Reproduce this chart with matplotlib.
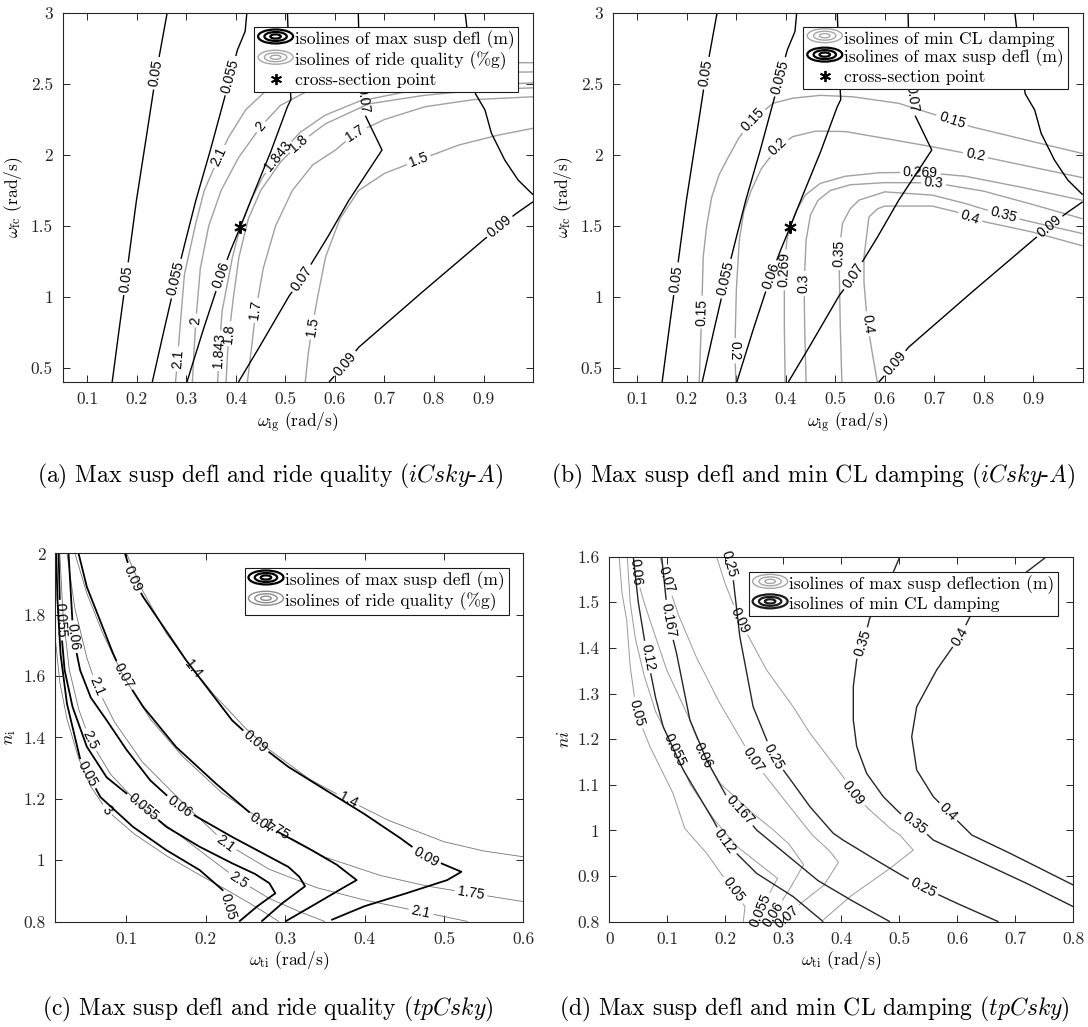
import matplotlib
matplotlib.use("Agg")
import matplotlib.pyplot as plt
from matplotlib.contour import ContourSet
from matplotlib.patches import Ellipse
from matplotlib.lines import Line2D
from matplotlib.ticker import FuncFormatter

plt.rcParams["font.family"] = "cmr10"
plt.rcParams["mathtext.fontset"] = "cm"
plt.rcParams["axes.formatter.use_mathtext"] = True

# ---------------- (a)/(b): iCsky-A design plane (w_ig, w_fc) ----------------
defl_ab_levels = [0.05, 0.055, 0.06, 0.07, 0.09]
defl_ab_lines = [
    [[(0.150, 0.40), (0.164, 0.77), (0.178, 1.13), (0.199, 1.68), (0.220, 2.15), (0.239, 2.58), (0.261, 3.0)]],
    [[(0.231, 0.40), (0.255, 0.77), (0.279, 1.13), (0.300, 1.42), (0.319, 1.68), (0.348, 2.03), (0.376, 2.39),
      (0.403, 2.74), (0.4185, 2.87), (0.422, 3.0)]],
    [[(0.301, 0.40), (0.335, 0.78), (0.370, 1.15), (0.3895, 1.33), (0.4085, 1.49), (0.433, 1.705), (0.470, 2.02),
      (0.504, 2.34), (0.511, 2.39), (0.508, 2.6), (0.504, 3.0)]],
    [[(0.405, 0.40), (0.447, 0.645), (0.508, 1.01), (0.534, 1.13), (0.585, 1.42), (0.628, 1.68), (0.695, 2.035),
      (0.661, 2.28), (0.655, 2.42), (0.650, 2.65), (0.647, 3.0)]],
    [[(0.588, 0.40), (0.621, 0.528), (0.648, 0.645), (0.775, 1.03), (0.903, 1.41), (0.933, 1.493), (0.965, 1.585),
      (1.0, 1.67)],
     [(0.863, 3.0), (0.868, 2.85), (0.876, 2.6), (0.884, 2.43), (0.903, 2.317), (0.916, 2.153), (0.943, 1.964),
      (0.970, 1.823), (1.0, 1.72)]],
]
defl_a_labels = [(0.2388, 2.576), (0.178, 1.128), (0.396, 2.552), (0.279, 1.129), (0.370, 1.152),
                 (0.534, 1.128), (0.650, 2.388), (0.621, 0.528), (0.933, 1.493)]
defl_b_labels = [(0.2396, 2.576), (0.179, 1.128), (0.387, 2.552), (0.280, 1.128), (0.367, 1.152),
                 (0.5346, 1.152), (0.649, 2.388), (0.622, 0.528), (0.934, 1.493)]

ride_a_levels = [1.5, 1.7, 1.8, 1.843, 2.0, 2.1]
ride_a_lines = [
    [[(0.54, 0.40), (0.546, 0.6), (0.554, 0.787), (0.565, 1.0), (0.581, 1.281), (0.61, 1.55), (0.648, 1.75),
      (0.70, 1.87), (0.769, 1.964), (0.85, 2.07), (0.93, 2.14), (1.0, 2.188)]],
    [[(0.423, 0.40), (0.43, 0.6), (0.44, 0.9), (0.455, 1.2), (0.48, 1.5), (0.514, 1.75), (0.555, 1.93),
      (0.601, 2.035), (0.641, 2.153), (0.70, 2.25), (0.782, 2.34), (0.88, 2.39), (1.0, 2.41)]],
    [[(0.380, 0.40), (0.383, 0.60), (0.386, 0.74), (0.395, 1.0), (0.406, 1.28), (0.425, 1.55), (0.45, 1.75),
      (0.49, 1.95), (0.527, 2.08), (0.581, 2.22), (0.668, 2.36), (0.78, 2.42), (0.9, 2.46), (1.0, 2.473)]],
    [[(0.363, 0.40), (0.366, 0.62), (0.372, 0.9), (0.393, 1.28), (0.4085, 1.49), (0.43, 1.68), (0.455, 1.85),
      (0.484, 1.99), (0.53, 2.16), (0.58, 2.28), (0.65, 2.38), (0.75, 2.45), (0.88, 2.49), (1.0, 2.508)]],
    [[(0.312, 0.40), (0.315, 0.60), (0.319, 0.83), (0.328, 1.2), (0.345, 1.5), (0.37, 1.75), (0.405, 1.98),
      (0.45, 2.2), (0.49, 2.35), (0.55, 2.46), (0.68, 2.55), (0.84, 2.58), (1.0, 2.585)]],
    [[(0.278, 0.40), (0.282, 0.56), (0.286, 0.74), (0.296, 1.16), (0.319, 1.52), (0.336, 1.75), (0.366, 1.99),
      (0.386, 2.13), (0.42, 2.32), (0.46, 2.45), (0.55, 2.57), (0.68, 2.63), (0.84, 2.65), (1.0, 2.65)]],
]
ride_a_labels = [(0.554, 0.787), (0.769, 1.964), (0.44, 0.905), (0.641, 2.153), (0.386, 0.74), (0.527, 2.08),
                 (0.366, 0.62), (0.484, 1.99), (0.319, 0.834), (0.45, 2.2), (0.282, 0.563), (0.366, 1.99)]

damp_b_levels = [0.15, 0.2, 0.269, 0.3, 0.35, 0.4]
damp_b_lines = [
    [[(0.225, 0.40), (0.228, 0.7), (0.23, 0.89), (0.233, 1.28), (0.24, 1.5), (0.25, 1.70), (0.265, 1.86),
      (0.28, 1.96), (0.305, 2.12), (0.333, 2.246), (0.374, 2.364), (0.414, 2.40), (0.47, 2.42), (0.535, 2.41),
      (0.628, 2.364), (0.736, 2.246), (0.776, 2.198), (0.83, 2.153), (0.91, 2.085), (1.0, 2.01)]],
    [[(0.299, 0.40), (0.297, 0.62), (0.30, 1.05), (0.306, 1.4), (0.315, 1.6), (0.33, 1.75), (0.35, 1.9),
      (0.384, 2.058), (0.414, 2.129), (0.46, 2.168), (0.52, 2.165), (0.595, 2.12), (0.696, 2.058),
      (0.783, 1.999), (0.863, 1.94), (1.0, 1.84)]],
    [[(0.3986, 0.40), (0.397, 0.8), (0.397, 1.19), (0.402, 1.40), (0.4085, 1.49), (0.42, 1.6), (0.44, 1.72),
      (0.47, 1.8), (0.52, 1.85), (0.59, 1.875), (0.675, 1.878), (0.763, 1.85), (0.88, 1.77), (1.0, 1.68)]],
    [[(0.441, 0.40), (0.438, 0.8), (0.437, 1.09), (0.441, 1.4), (0.45, 1.58), (0.465, 1.68), (0.49, 1.75),
      (0.53, 1.79), (0.6, 1.805), (0.699, 1.804), (0.8, 1.745), (0.9, 1.65), (1.0, 1.55)]],
    [[(0.5133, 0.40), (0.51, 0.8), (0.5075, 1.305), (0.5145, 1.517), (0.53, 1.62), (0.548, 1.682), (0.60, 1.74),
      (0.696, 1.717), (0.763, 1.658), (0.84, 1.576), (0.897, 1.528), (1.0, 1.446)]],
    [[(0.585, 0.40), (0.575, 0.6), (0.565, 0.81), (0.558, 1.1), (0.558, 1.281), (0.568, 1.563), (0.585, 1.62),
      (0.6, 1.64), (0.696, 1.64), (0.743, 1.6), (0.773, 1.563), (0.803, 1.528), (0.897, 1.458), (1.0, 1.36)]],
]
damp_b_labels = [(0.2296, 0.893), (0.333, 2.246), (0.736, 2.246), (0.297, 0.62), (0.384, 2.058),
                 (0.783, 1.999), (0.397, 1.19), (0.672, 1.878), (0.437, 1.093), (0.699, 1.804),
                 (0.5075, 1.305), (0.84, 1.576), (0.565, 0.81), (0.773, 1.563)]

cross_point = (0.4085, 1.49)

# ---------------- (c): tpCsky plane (w_ti, n_i) ----------------
defl_c_levels = [0.05, 0.055, 0.06, 0.07, 0.09]
defl_c_lines = [
    [[(0.0115, 2.0), (0.013, 1.85), (0.017, 1.67), (0.025, 1.51), (0.042, 1.326), (0.067, 1.206),
      (0.108, 1.109), (0.15, 1.033), (0.192, 0.968), (0.221, 0.903), (0.228, 0.85), (0.233, 0.80)]],
    [[(0.0145, 2.0), (0.0166, 1.782), (0.022, 1.62), (0.032, 1.50), (0.05, 1.37), (0.075, 1.27), (0.1208, 1.174),
      (0.15, 1.109), (0.192, 1.044), (0.233, 0.99), (0.262, 0.955), (0.28, 0.925), (0.2875, 0.892),
      (0.265, 0.85), (0.242, 0.80)]],
    [[(0.027, 2.0), (0.033, 1.728), (0.0416, 1.619), (0.055, 1.53), (0.075, 1.456), (0.10, 1.36), (0.13, 1.26),
      (0.1666, 1.174), (0.233, 1.076), (0.304, 0.978), (0.318, 0.945), (0.325, 0.915), (0.296, 0.859),
      (0.27, 0.80)]],
    [[(0.0396, 2.0), (0.05, 1.891), (0.0666, 1.782), (0.083, 1.674), (0.096, 1.6), (0.121, 1.5), (0.1625, 1.369),
      (0.2125, 1.25), (0.271, 1.12), (0.333, 1.033), (0.365, 0.985), (0.39, 0.935), (0.375, 0.913),
      (0.34, 0.86), (0.30, 0.80)]],
    [[(0.098, 2.0), (0.108, 1.918), (0.121, 1.858), (0.175, 1.652), (0.233, 1.456), (0.2625, 1.386),
      (0.304, 1.304), (0.35, 1.23), (0.40, 1.15), (0.446, 1.07), (0.477, 1.011), (0.522, 0.962),
      (0.504, 0.935), (0.45, 0.89), (0.40, 0.85), (0.358, 0.805)]],
]
defl_c_labels = [(0.048, 1.277), (0.227, 0.848), (0.0166, 1.782), (0.1208, 1.174), (0.033, 1.728),
                 (0.1666, 1.174), (0.096, 1.6), (0.271, 1.12), (0.108, 1.918), (0.2625, 1.386), (0.477, 1.011)]

ride_c_levels = [1.4, 1.75, 2.1, 2.5, 3.0]
ride_c_lines = [
    [[(0.10, 2.0), (0.12, 1.88), (0.15, 1.74), (0.175, 1.652), (0.21, 1.54), (0.25, 1.43), (0.28, 1.36),
      (0.33, 1.265), (0.379, 1.196), (0.43, 1.13), (0.50, 1.06), (0.55, 1.03), (0.60, 1.011)]],
    [[(0.035, 2.0), (0.05, 1.87), (0.07, 1.74), (0.096, 1.6), (0.13, 1.46), (0.17, 1.34), (0.22, 1.22),
      (0.289, 1.098), (0.35, 1.01), (0.42, 0.95), (0.48, 0.915), (0.534, 0.892), (0.60, 0.865)]],
    [[(0.025, 2.0), (0.035, 1.82), (0.05, 1.66), (0.0625, 1.565), (0.085, 1.45), (0.12, 1.32), (0.17, 1.19),
      (0.225, 1.055), (0.28, 0.97), (0.34, 0.91), (0.40, 0.87), (0.471, 0.832), (0.53, 0.80)]],
    [[(0.016, 2.0), (0.02, 1.8), (0.028, 1.62), (0.04, 1.49), (0.054, 1.391), (0.08, 1.28), (0.12, 1.17),
      (0.17, 1.075), (0.2416, 0.935), (0.28, 0.875), (0.32, 0.83), (0.35, 0.80)]],
    [[(0.0104, 1.72), (0.016, 1.58), (0.025, 1.46), (0.04, 1.33), (0.055, 1.24), (0.075, 1.163), (0.11, 1.085),
      (0.15, 1.015), (0.19, 0.955), (0.225, 0.905), (0.255, 0.86), (0.28, 0.82), (0.292, 0.80)]],
]
ride_c_labels = [(0.1757, 1.608), (0.379, 1.196), (0.289, 1.098), (0.534, 0.892), (0.0625, 1.565),
                 (0.225, 1.055), (0.471, 0.832), (0.054, 1.391), (0.2416, 0.935), (0.075, 1.163)]

# ---------------- (d): tpCsky plane, damping vs deflection ----------------
damp_d_levels = [0.12, 0.167, 0.25, 0.35, 0.4]
damp_d_lines = [
    [[(0.0414, 1.6), (0.05, 1.5), (0.0645, 1.388), (0.08, 1.29), (0.093, 1.227), (0.1276, 1.1325),
      (0.179, 1.023), (0.1995, 0.975), (0.254, 0.906), (0.317, 0.855), (0.369, 0.80)]],
    [[(0.0903, 1.6), (0.096, 1.53), (0.1017, 1.461), (0.116, 1.388), (0.139, 1.242), (0.168, 1.154),
      (0.2024, 1.074), (0.225, 1.045), (0.254, 1.001), (0.317, 0.935), (0.36, 0.89), (0.42, 0.845),
      (0.484, 0.80)]],
    [[(0.2024, 1.6), (0.2138, 1.549), (0.225, 1.425), (0.248, 1.271), (0.283, 1.162), (0.317, 1.103),
      (0.346, 1.052), (0.386, 0.994), (0.403, 0.979), (0.46, 0.935), (0.50, 0.905), (0.541, 0.875),
      (0.60, 0.84), (0.671, 0.80)]],
    [[(0.501, 1.6), (0.49, 1.567), (0.465, 1.50), (0.449, 1.465), (0.438, 1.41), (0.4265, 1.374),
      (0.4207, 1.315), (0.4207, 1.242), (0.4265, 1.184), (0.4437, 1.125), (0.4724, 1.074), (0.501, 1.038),
      (0.527, 1.016), (0.5586, 0.979), (0.6334, 0.935), (0.7196, 0.884), (0.80, 0.833)]],
    [[(0.754, 1.6), (0.72, 1.567), (0.66, 1.51), (0.6218, 1.468), (0.6047, 1.425), (0.5645, 1.352),
      (0.53, 1.271), (0.5214, 1.2055), (0.53, 1.1325), (0.5586, 1.074), (0.5845, 1.041), (0.6162, 1.001),
      (0.625, 0.99), (0.6908, 0.95), (0.80, 0.8804)]],
]
damp_d_labels = [(0.070, 1.381), (0.1995, 0.975), (0.1017, 1.461), (0.225, 1.045), (0.211, 1.585),
                 (0.283, 1.162), (0.541, 0.875), (0.438, 1.41), (0.527, 1.016), (0.6047, 1.425),
                 (0.5845, 1.041)]

defl_d_levels = [0.05, 0.055, 0.06, 0.07, 0.09]
defl_d_lines = [
    [[(0.017, 1.6), (0.022, 1.52), (0.03, 1.461), (0.036, 1.36), (0.0472, 1.257), (0.07, 1.184), (0.11, 1.081),
      (0.13, 1.005), (0.14, 0.99), (0.168, 0.95), (0.19, 0.91), (0.2138, 0.8695), (0.234, 0.833),
      (0.231, 0.80)]],
    [[(0.031, 1.6), (0.036, 1.5), (0.045, 1.42), (0.06, 1.34), (0.08, 1.26), (0.113, 1.176), (0.14, 1.10),
      (0.18, 1.025), (0.22, 0.965), (0.26, 0.925), (0.29, 0.895), (0.275, 0.86), (0.26, 0.825),
      (0.255, 0.80)]],
    [[(0.047, 1.6), (0.045, 1.567), (0.06, 1.50), (0.07, 1.461), (0.099, 1.352), (0.139, 1.242), (0.162, 1.165),
      (0.191, 1.103), (0.248, 1.037), (0.283, 1.001), (0.31, 0.97), (0.335, 0.925), (0.31, 0.87),
      (0.285, 0.82), (0.275, 0.80)]],
    [[(0.087, 1.6), (0.099, 1.549), (0.12, 1.47), (0.15, 1.38), (0.19, 1.28), (0.248, 1.154), (0.30, 1.07),
      (0.35, 0.99), (0.38, 0.955), (0.395, 0.93), (0.37, 0.88), (0.33, 0.84), (0.306, 0.811), (0.295, 0.80)]],
    [[(0.185, 1.6), (0.20, 1.54), (0.225, 1.461), (0.271, 1.352), (0.317, 1.271), (0.346, 1.213),
      (0.403, 1.118), (0.4207, 1.081), (0.449, 1.045), (0.484, 1.005), (0.501, 0.99), (0.524, 0.957),
      (0.484, 0.917), (0.415, 0.855), (0.369, 0.804)]],
]
defl_d_labels = [(0.0472, 1.257), (0.2138, 0.8695), (0.113, 1.176), (0.26, 0.825), (0.045, 1.567),
                 (0.162, 1.165), (0.28, 0.818), (0.099, 1.549), (0.248, 1.154), (0.306, 0.811),
                 (0.225, 1.461), (0.4207, 1.081)]

# axis ranges and ticks
ab_xlim, ab_ylim = (0.05, 1.0), (0.4, 3.0)
ab_xticks = [0.1, 0.2, 0.3, 0.4, 0.5, 0.6, 0.7, 0.8, 0.9]
ab_yticks = [0.5, 1.0, 1.5, 2.0, 2.5, 3.0]
c_xlim, c_ylim = (0.01, 0.6), (0.8, 2.0)
c_xticks = [0.1, 0.2, 0.3, 0.4, 0.5, 0.6]
c_yticks = [0.8, 1.0, 1.2, 1.4, 1.6, 1.8, 2.0]
d_xlim, d_ylim = (0.0, 0.8), (0.8, 1.6)
d_xticks = [0.0, 0.1, 0.2, 0.3, 0.4, 0.5, 0.6, 0.7, 0.8]
d_yticks = [0.8, 0.9, 1.0, 1.1, 1.2, 1.3, 1.4, 1.5, 1.6]


class RingIcon:
    """Legend icon of three nested ellipses, like a contour-plot legend entry."""

    def __init__(self, color, lw):
        self.color = color
        self.lw = lw

    def legend_artist(self, legend, orig_handle, fontsize, handlebox):
        x0, y0 = handlebox.xdescent, handlebox.ydescent
        w, h = handlebox.width, handlebox.height
        cx, cy = x0 + w / 2, y0 + h / 2
        outer = None
        for f in (1.0, 0.64, 0.3):
            e = Ellipse((cx, cy), w * f, h * f, fill=False, edgecolor=self.color,
                        linewidth=self.lw, transform=handlebox.get_transform())
            handlebox.add_artist(e)
            outer = outer or e
        return outer


def style_axes(ax, xlim, ylim, xticks, yticks):
    ax.set_xlim(xlim)
    ax.set_ylim(ylim)
    ax.set_xticks(xticks)
    ax.set_yticks(yticks)
    fmt = FuncFormatter(lambda v, _: f"{v:g}")
    ax.xaxis.set_major_formatter(fmt)
    ax.yaxis.set_major_formatter(fmt)
    ax.tick_params(direction="in", top=True, right=True, length=5, width=0.7,
                   labelsize=12.5, colors="0.15", pad=7)
    for sp in ax.spines.values():
        sp.set_color("0.15")
        sp.set_linewidth(0.8)


def isolines(ax, levels, lines, color, lw, label_pos):
    cs = ContourSet(ax, levels, lines, colors=color, linewidths=lw)
    with plt.rc_context({"font.family": ["Liberation Sans"]}):
        texts = cs.clabel(fmt="%g", manual=label_pos, inline=True, inline_spacing=3,
                          fontsize=10, colors="k")
    for t in texts:
        t.set_clip_on(False)
    return cs


def add_legend(ax, entries, anchor):
    handles, labels, hmap = [], [], {}
    for kind, color, lw, text in entries:
        if kind == "rings":
            h = Line2D([], [], color=color)
            hmap[h] = RingIcon(color, lw)
        else:
            h = Line2D([], [], ls="none", marker=(6, 2, 0), color="k", markersize=8, markeredgewidth=1.3)
        handles.append(h)
        labels.append(text)
    leg = ax.legend(handles, labels, handler_map=hmap, loc="upper right", bbox_to_anchor=anchor,
                    borderaxespad=0, fontsize=12.6, handlelength=2.0, handleheight=0.85,
                    handletextpad=0.1, labelspacing=0.12, borderpad=0.22, fancybox=False,
                    framealpha=1, edgecolor="0.1")
    leg.get_frame().set_linewidth(0.8)
    return leg


fig = plt.figure(figsize=(10.88, 10.27), dpi=100)
ax_a = fig.add_axes([0.0576, 0.628, 0.4323, 0.3593])
ax_b = fig.add_axes([0.5631, 0.628, 0.4320, 0.3593])
ax_c = fig.add_axes([0.0506, 0.1027, 0.4304, 0.3585])
ax_d = fig.add_axes([0.5600, 0.1025, 0.4265, 0.3555])

style_axes(ax_a, ab_xlim, ab_ylim, ab_xticks, ab_yticks)
style_axes(ax_b, ab_xlim, ab_ylim, ab_xticks, ab_yticks)
style_axes(ax_c, c_xlim, c_ylim, c_xticks, c_yticks)
style_axes(ax_d, d_xlim, d_ylim, d_xticks, d_yticks)

# (a) deflection vs ride quality
isolines(ax_a, ride_a_levels, ride_a_lines, "0.63", 1.0, ride_a_labels)
isolines(ax_a, defl_ab_levels, defl_ab_lines, "k", 1.0, defl_a_labels)
ax_a.plot(*cross_point, ls="none", marker=(6, 2, 0), color="k", markersize=9, markeredgewidth=1.4)

# (b) deflection vs closed-loop damping
isolines(ax_b, damp_b_levels, damp_b_lines, "0.63", 1.0, damp_b_labels)
isolines(ax_b, defl_ab_levels, defl_ab_lines, "k", 1.0, defl_b_labels)
ax_b.plot(*cross_point, ls="none", marker=(6, 2, 0), color="k", markersize=9, markeredgewidth=1.4)

# (c) deflection vs ride quality, tpCsky
isolines(ax_c, ride_c_levels, ride_c_lines, "0.45", 0.6, ride_c_labels)
isolines(ax_c, defl_c_levels, defl_c_lines, "k", 1.3, defl_c_labels)

# (d) deflection vs damping, tpCsky
isolines(ax_d, defl_d_levels, defl_d_lines, "0.6", 0.7, defl_d_labels)
isolines(ax_d, damp_d_levels, damp_d_lines, "0.15", 1.0, damp_d_labels)

for ax, xl, yl in ((ax_a, ab_xlim, ab_ylim), (ax_b, ab_xlim, ab_ylim),
                   (ax_c, c_xlim, c_ylim), (ax_d, d_xlim, d_ylim)):
    ax.set_xlim(xl)
    ax.set_ylim(yl)

add_legend(ax_a, [("rings", "k", 1.6, "isolines of max susp defl (m)"),
                  ("rings", "0.65", 1.0, "isolines of ride quality (%g)"),
                  ("star", "k", 1.0, "cross-section point")], (0.969, 0.963))
add_legend(ax_b, [("rings", "0.65", 1.0, "isolines of min CL damping"),
                  ("rings", "k", 1.6, "isolines of max susp defl (m)"),
                  ("star", "k", 1.0, "cross-section point")], (0.968, 0.963))
add_legend(ax_c, [("rings", "k", 1.6, "isolines of max susp defl (m)"),
                  ("rings", "0.55", 1.0, "isolines of ride quality (%g)")], (0.969, 0.961))
add_legend(ax_d, [("rings", "0.65", 1.0, "isolines of max susp deflection (m)"),
                  ("rings", "0.1", 1.6, "isolines of min CL damping")], (0.968, 0.959))

ax_a.set_xlabel(r"$\omega_{\rm ig}$ (rad/s)", fontsize=12.5, labelpad=2)
ax_a.set_ylabel(r"$\omega_{\rm fc}$ (rad/s)", fontsize=12.5, labelpad=4)
ax_b.set_xlabel(r"$\omega_{\rm ig}$ (rad/s)", fontsize=12.5, labelpad=2)
ax_b.set_ylabel(r"$\omega_{\rm fc}$ (rad/s)", fontsize=12.5, labelpad=4)
ax_c.set_xlabel(r"$\omega_{\rm ti}$ (rad/s)", fontsize=12.5, labelpad=2)
ax_c.set_ylabel(r"$n_{\rm i}$", fontsize=12.5, labelpad=4)
ax_d.set_xlabel(r"$\omega_{\rm ti}$ (rad/s)", fontsize=12.5, labelpad=2)
ax_d.set_ylabel(r"$ni$", fontsize=12.5, labelpad=4)

fig.text(0.248, 0.5365, r"(a) Max susp defl and ride quality ($\mathit{iCsky}$-$\mathit{A}$)",
         ha="center", va="center", fontsize=17)
fig.text(0.747, 0.5365, r"(b) Max susp defl and min CL damping ($\mathit{iCsky}$-$\mathit{A}$)",
         ha="center", va="center", fontsize=17)
fig.text(0.246, 0.0166, r"(c) Max susp defl and ride quality ($\mathit{tpCsky}$)",
         ha="center", va="center", fontsize=17)
fig.text(0.749, 0.0166, r"(d) Max susp defl and min CL damping ($\mathit{tpCsky}$)",
         ha="center", va="center", fontsize=17)

fig.savefig("out.png", dpi=100)
